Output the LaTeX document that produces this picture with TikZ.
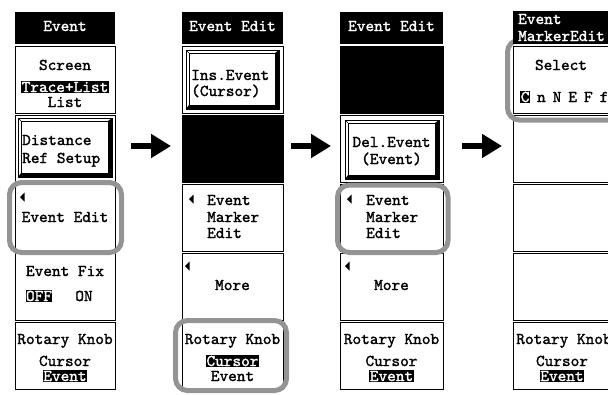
\documentclass[tikz,border=0pt]{standalone}
\usepackage{fontspec}
\newfontfamily\lcdfont{lmmono10-regular.otf}[FakeBold=1.6]
\usetikzlibrary{arrows.meta, positioning}

% 3D soft key: x1, y1, x2, y2
\newcommand{\softkey}[4]{%
  \draw[line width=0.6pt] (#1,#2) rectangle (#3,#4);
  \fill (#3,#2) -- (#3,#4) -- (#1,#4) -- (#1+3,#4-4) -- (#3-4,#4-4) -- (#3-4,#2+3) -- cycle;
  \draw[line width=0.6pt] (#1+3,#2+3) rectangle (#3-4,#4-4);
  \draw[line width=0.6pt] (#1,#2) -- (#1+3,#2+3);}
% small left pointing mark
\newcommand{\keymark}[2]{\fill (#1,#2) -- ++(4.5,-4.5) -- ++(0,9) -- cycle;}

\begin{document}
\begin{tikzpicture}[x=1pt, y=-1pt,
    font=\lcdfont\fontsize{16.5}{17}\selectfont,
    cell/.style={draw=black, line width=0.8pt},
    lbl/.style={inner sep=0pt, anchor=base},
    lbll/.style={inner sep=0pt, anchor=base west},
    inv/.style={fill=black, text=white, inner xsep=0.5pt, inner ysep=1.2pt, anchor=base},
    headlbl/.style={text=white, inner sep=0pt, anchor=base},
    ring/.style={draw=black!42, line width=5pt, rounded corners=12pt},
    flow/.style={line width=6.5pt, -{Triangle[length=20pt, width=23pt]}}]
    \useasboundingbox (0,0) rectangle (608,394);
    \clip (0,0) rectangle (608,394);

    % Panel 1: Event
    \fill (15,12) rectangle (115,44);
    \node[headlbl] (p1-head) at (65,31) {Event};
    \foreach \t/\b in {46/113, 115/182, 184/251, 253/320, 322/389}
      \draw[cell] (15,\t) rectangle (115,\b);
    \node[lbl] (p1-screen) at (65,70) {Screen};
    \node[inv] (p1-trace) at (65,92) {Trace+List};
    \node[lbl] (p1-list) at (65,107) {List};
    \softkey{18}{118}{112}{177}
    \node[lbll] (p1-dist) at (22,145) {Distance};
    \node[lbll] (p1-ref) at (22,163) {Ref Setup};
    \keymark{20}{197}
    \node[lbl] (p1-edit) at (65,222) {Event Edit};
    \node[lbl] (p1-fix) at (65,276) {Event Fix};
    \node[inv] (p1-off) at (39,301) {OFF};
    \node[lbl] (p1-on) at (84,301) {ON};
    \node[lbl] (p1-knob) at (65,344) {Rotary Knob};
    \node[lbl] (p1-cursor) at (65,366) {Cursor};
    \node[inv] (p1-event) at (65,381) {Event};

    % Panel 2: Event Edit (insert)
    \fill (182,12) rectangle (283,44);
    \node[headlbl] (p2-head) at (232.5,31) {Event Edit};
    \foreach \t/\b in {46/113, 115/182, 184/251, 253/320, 322/389}
      \draw[cell] (182,\t) rectangle (283,\b);
    \softkey{186}{50}{279}{109}
    \node[lbll] (p2-ins) at (191,80) {Ins.Event};
    \node[lbll] (p2-inscur) at (191,96) {(Cursor)};
    \fill (182,115) rectangle (283,182);
    \keymark{189}{199}
    \node[lbll] (p2-ev) at (207,205) {Event};
    \node[lbll] (p2-mk) at (207,222) {Marker};
    \node[lbll] (p2-ed) at (207,238) {Edit};
    \keymark{185}{266}
    \node[lbl] (p2-more) at (232.5,290) {More};
    \node[lbl] (p2-knob) at (232.5,344) {Rotary Knob};
    \node[inv] (p2-cursor) at (232.5,366) {Cursor};
    \node[lbl] (p2-event) at (232.5,381) {Event};

    % Panel 3: Event Edit (delete)
    \fill (340,12) rectangle (443,44);
    \node[headlbl] (p3-head) at (391.5,31) {Event Edit};
    \foreach \t/\b in {46/113, 115/182, 184/251, 253/320, 322/389}
      \draw[cell] (340,\t) rectangle (443,\b);
    \fill (340,46) rectangle (443,113);
    \softkey{345}{120}{439}{179}
    \node[lbl] (p3-del) at (391.5,147) {Del.Event};
    \node[lbl] (p3-delev) at (391.5,164) {(Event)};
    \keymark{347}{199}
    \node[lbll] (p3-ev) at (366,205) {Event};
    \node[lbll] (p3-mk) at (366,222) {Marker};
    \node[lbll] (p3-ed) at (366,238) {Edit};
    \keymark{345}{266}
    \node[lbl] (p3-more) at (391.5,290) {More};
    \node[lbl] (p3-knob) at (391.5,344) {Rotary Knob};
    \node[lbl] (p3-cursor) at (391.5,366) {Cursor};
    \node[inv] (p3-event) at (391.5,381) {Event};

    % Panel 4: Event MarkerEdit (header drawn after the rings)
    \foreach \t/\b in {46/113, 115/182, 184/251, 253/320, 322/389}
      \draw[cell] (513,\t) rectangle (613,\b);
    \node[lbl] (p4-sel) at (561,70) {Select};
    \node[lbll] (p4-marks) at (520,102) {\setlength{\fboxsep}{0.6pt}\colorbox{black}{\textcolor{white}{C}}\hspace{7pt}n\hspace{7pt}N\hspace{7pt}E\hspace{7pt}F\hspace{7pt}f};
    \node[lbl] (p4-knob) at (564,344) {Rotary Knob};
    \node[lbl] (p4-cursor) at (562,366) {Cursor};
    \node[inv] (p4-event) at (562,381) {Event};

    % Highlight rings
    \draw[ring] (9.5,182.5) rectangle (121.5,252.5);
    \draw[ring] (175.5,320.5) rectangle (286.5,390.5);
    \draw[ring] (337.5,185) rectangle (448,252.5);
    \draw[ring] (507.5,40) rectangle (622,120);

    \fill (513,11) rectangle (613,44);
    \node[lbll, text=white] (p4-head) at (518,24) {Event};
    \node[lbll, text=white] (p4-head2) at (518,41) {MarkerEdit};

    % Step arrows
    \coordinate (a1-from) at (131,146);
    \coordinate (a1-to) at (171,146);
    \coordinate (a2-from) at (291,146);
    \coordinate (a2-to) at (331,146);
    \coordinate (a3-from) at (462,146);
    \coordinate (a3-to) at (502,146);
    \draw[flow] (a1-from) -- (a1-to);
    \draw[flow] (a2-from) -- (a2-to);
    \draw[flow] (a3-from) -- (a3-to);
\end{tikzpicture}
\end{document}
